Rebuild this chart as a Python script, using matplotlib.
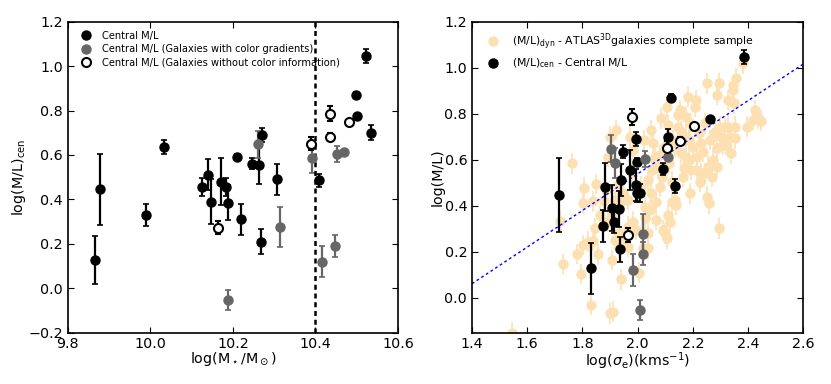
import numpy as np
import matplotlib
matplotlib.use('Agg')
from matplotlib import pyplot as plt

# ---- data ----
# central M/L, galaxies with full colour info
cen_mass = [9.867, 9.878, 9.989, 10.033, 10.124, 10.139, 10.146, 10.170, 10.183, 10.189, 10.211,
            10.219, 10.246, 10.264, 10.267, 10.270, 10.306, 10.409, 10.498, 10.500, 10.522, 10.535]
cen_sig = [1.833, 1.717, 1.915, 1.947, 1.998, 1.941, 1.908, 1.883, 2.010, 1.932, 1.998,
           1.874, 2.091, 1.972, 1.935, 1.993, 1.993, 2.135, 2.120, 2.263, 2.385, 2.109]
cen_ml = [0.127, 0.445, 0.330, 0.635, 0.455, 0.510, 0.390, 0.480, 0.455, 0.385, 0.590,
          0.310, 0.560, 0.555, 0.210, 0.690, 0.490, 0.485, 0.870, 0.775, 1.045, 0.700]
cen_err = [0.11, 0.16, 0.05, 0.03, 0.04, 0.07, 0.10, 0.105, 0.04, 0.08, 0.015,
           0.07, 0.025, 0.085, 0.055, 0.03, 0.07, 0.03, 0.015, 0.01, 0.03, 0.035]

# galaxies with colour gradients
grad_mass = [10.189, 10.260, 10.315, 10.391, 10.416, 10.448, 10.452, 10.470]
grad_sig = [2.007, 1.902, 2.019, 1.918, 1.985, 2.020, 2.028, 2.109]
grad_ml = [-0.054, 0.648, 0.275, 0.584, 0.119, 0.191, 0.604, 0.611]
grad_err = [0.045, 0.06, 0.09, 0.065, 0.07, 0.05, 0.035, 0.01]

# galaxies without colour information
nocol_mass = [10.163, 10.388, 10.435, 10.436, 10.480]
nocol_sig = [1.967, 2.105, 1.980, 2.152, 2.206]
nocol_ml = [0.272, 0.651, 0.786, 0.682, 0.747]
nocol_err = [0.03, 0.03, 0.035, 0.015, 0.01]

# ATLAS3D complete sample (M/L)dyn
atlas_sig = [1.764, 1.805, 1.802, 1.851, 1.840, 1.718, 1.729, 1.781, 1.794, 1.802, 1.820, 1.839,
             1.833, 1.856, 1.845, 1.864, 1.880, 1.886, 1.900, 1.910, 1.909, 1.917, 1.921, 1.900,
             1.892, 1.928, 1.939, 1.951, 1.947, 1.952, 1.966, 1.966, 1.972, 1.984, 1.981, 1.984,
             1.996, 2.004, 2.021, 2.026, 2.026, 2.038, 2.036, 2.046, 2.050, 2.053, 2.057, 2.050,
             2.065, 2.068, 2.074, 2.080, 2.084, 2.092, 2.101, 2.105, 2.111, 2.108, 2.113, 2.117,
             2.123, 2.125, 2.129, 2.135, 2.135, 2.141, 2.147, 2.152, 2.159, 2.163, 2.169, 2.177,
             2.181, 2.185, 2.189, 2.185, 2.195, 2.201, 2.207, 2.213, 2.217, 2.222, 2.225, 2.231,
             2.237, 2.244, 2.250, 2.253, 2.256, 2.259, 2.262, 2.268, 2.274, 2.280, 2.286, 2.289,
             2.294, 2.294, 2.298, 2.304, 2.310, 2.316, 2.322, 2.328, 2.334, 2.340, 2.346, 2.349,
             2.352, 2.354, 2.358, 2.346, 2.383, 2.395, 2.420, 2.425, 2.437, 2.449, 2.147, 2.159,
             2.174, 2.024, 1.966, 1.917, 1.932, 1.893, 1.912, 2.080, 2.096, 2.088, 2.189, 2.228,
             2.286, 2.244, 2.217, 2.177, 1.545, 2.014, 2.038, 2.062, 2.111, 2.328]
atlas_ml = [0.584, 0.478, 0.410, 0.494, 0.419, 0.335, 0.146, 0.190, 0.103, 0.229, 0.243, 0.248,
            -0.032, 0.188, 0.301, 0.359, 0.422, 0.468, -0.068, -0.061, 0.164, 0.251, 0.729, 0.700,
            0.613, 0.490, 0.080, 0.251, 0.454, 0.425, 0.222, 0.309, 0.700, 0.642, 0.541, 0.330,
            0.294, 0.109, 0.214, 0.345, 0.396, 0.280, 0.214, 0.381, 0.454, 0.555, 0.671, 0.729,
            0.338, 0.417, 0.570, 0.483, 0.780, 0.294, 0.280, 0.258, 0.359, 0.830, 0.584, 0.330,
            0.504, 0.417, 0.686, 0.657, 0.425, 0.403, 0.743, 0.816, 0.628, 0.526, 0.562, 0.787,
            0.874, 0.599, 0.454, 0.686, 0.555, 0.657, 0.830, 0.859, 0.613, 0.714, 0.504, 0.541,
            0.635, 0.758, 0.932, 0.439, 0.570, 0.410, 0.686, 0.526, 0.599, 0.722, 0.881, 0.649,
            0.932, 0.301, 0.743, 0.700, 0.664, 0.743, 0.664, 0.743, 0.700, 0.628, 0.925, 0.845,
            0.743, 0.693, 0.954, 0.903, 1.019, 0.743, 0.772, 0.816, 0.780, 0.770, 0.794, 0.722,
            0.700, 0.686, 0.425, 0.425, 0.280, 0.330, 0.367, 0.620, 0.657, 0.526, 0.758, 0.671,
            0.570, 0.541, 0.555, 0.613, -0.152, 0.483, 0.512, 0.613, 0.751, 0.859]
atlas_err = 0.045

# linear fit of the ATLAS3D relation
fit_slope = 0.796
fit_icpt = -1.054

mass_cut = 10.4

# ---- style ----
plt.rcParams['xtick.direction'] = 'in'
plt.rcParams['ytick.direction'] = 'in'
plt.rcParams['xtick.top'] = True
plt.rcParams['ytick.right'] = True
plt.rcParams['xtick.major.size'] = 4
plt.rcParams['ytick.major.size'] = 4
plt.rcParams['xtick.major.pad'] = 3.5
plt.rcParams['ytick.major.pad'] = 3.5
plt.rcParams['font.size'] = 10.3
plt.rcParams['axes.linewidth'] = 1.2

fig = plt.figure(figsize=(8.31, 3.84), dpi=100)
ax1 = fig.add_axes([0.0815, 0.134, 0.3975, 0.8095])
ax2 = fig.add_axes([0.568, 0.134, 0.3985, 0.8095])

ms = 6.5
ekw = dict(fmt='o', ms=ms, elinewidth=1.6, capsize=2, capthick=1.2)
orange = '#fde0b2'

# ---- left panel ----
e1 = ax1.errorbar(cen_mass, cen_ml, yerr=cen_err, color='k', mec='k', **ekw)
e2 = ax1.errorbar(grad_mass, grad_ml, yerr=grad_err, color='0.4', mec='0.4', **ekw)
e3 = ax1.errorbar(nocol_mass, nocol_ml, yerr=nocol_err, color='k', mfc='w', mec='k', mew=1.5, **ekw)
ax1.axvline(mass_cut, color='k', ls=(0, (2, 1.5)), lw=1.8)

ax1.set_xlim(9.8, 10.6)
ax1.set_ylim(-0.2, 1.2)
ax1.set_xticks(np.arange(9.8, 10.61, 0.2))
ax1.set_xlabel(r'log(M$_\star$/M$_\odot$)')
ax1.set_ylabel(r'log(M/L)$_{\rm cen}$')
ax1.xaxis.set_label_coords(0.5, -0.058)
ax1.yaxis.set_label_coords(-0.12, 0.5)
ax1.legend([e1[0], e2[0], e3[0]],
           ['Central M/L', 'Central M/L (Galaxies with color gradients)',
            'Central M/L (Galaxies without color information)'],
           loc=2, numpoints=1, frameon=False, prop={'size': 7.1},
           handletextpad=0.6, borderaxespad=0.5, labelspacing=0.35)

# ---- right panel ----
ea = ax2.errorbar(atlas_sig, atlas_ml, yerr=atlas_err, fmt='o', ms=ms, color=orange, mec=orange,
                  elinewidth=1.2, capsize=0, zorder=1)
sig_line = np.array([1.4, 2.6])
ax2.plot(sig_line, fit_slope * sig_line + fit_icpt, color='b', ls=(0, (2, 2)), lw=1, zorder=2)
eb = ax2.errorbar(cen_sig, cen_ml, yerr=cen_err, color='k', mec='k', zorder=3, **ekw)
ax2.errorbar(grad_sig, grad_ml, yerr=grad_err, color='0.4', mec='0.4', zorder=3, **ekw)
ax2.errorbar(nocol_sig, nocol_ml, yerr=nocol_err, color='k', mfc='w', mec='k', mew=1.5,
             zorder=3, **ekw)

ax2.set_xlim(1.4, 2.6)
ax2.set_ylim(-0.152, 1.2)
ax2.set_xticks(np.arange(1.4, 2.61, 0.2))
ax2.set_yticks(np.arange(0.0, 1.21, 0.2))
ax2.set_xlabel(r'log($\sigma_{\rm e}$)(kms$^{-1}$)')
ax2.set_ylabel('log(M/L)')
ax2.xaxis.set_label_coords(0.5, -0.058)
ax2.yaxis.set_label_coords(-0.082, 0.5)
ax2.legend([ea[0], eb[0]],
           [r'(M/L)$_{\rm dyn}$ - ATLAS$^{\rm 3D}$galaxies complete sample',
            r'(M/L)$_{\rm cen}$ - Central M/L'],
           loc=2, numpoints=1, frameon=False, prop={'size': 7.8},
           handletextpad=0.8, borderaxespad=0.5, labelspacing=0.4)

plt.savefig('out.png', dpi=100)
